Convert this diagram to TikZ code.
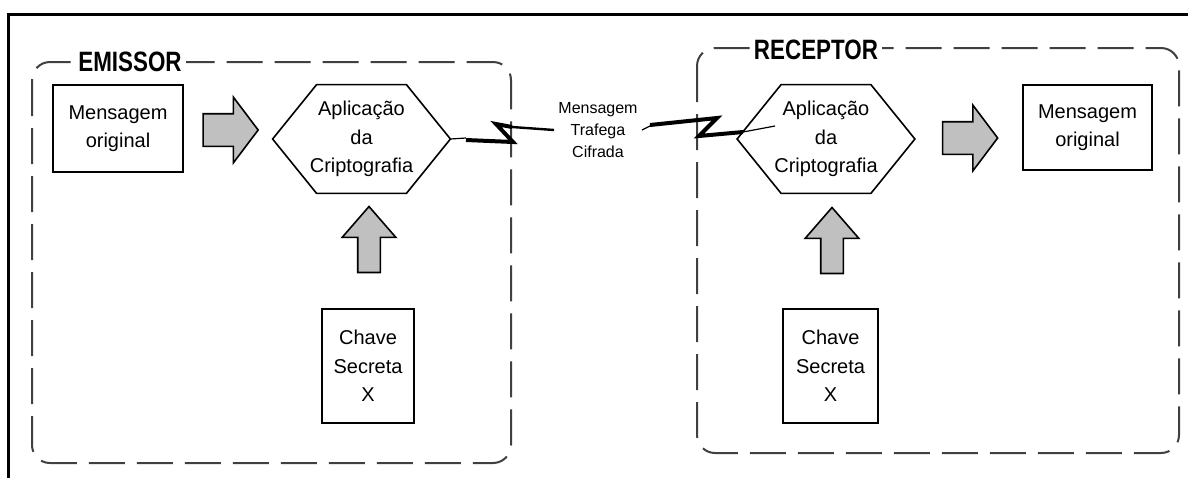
\documentclass[tikz,border=0pt]{standalone}
\usepackage{fontspec}
\setmainfont{Liberation Sans}
\usetikzlibrary{shapes.arrows,calc}
\definecolor{boxgray}{RGB}{192,192,192}
\definecolor{dashgray}{RGB}{64,64,64}

\tikzset{
  zone/.style={draw=dashgray, line width=1pt, dash pattern=on 18pt off 6pt, rounded corners=9pt},
  zonetitle/.style={fill=white, inner sep=2pt, font=\fontsize{14}{16}\selectfont\bfseries},
  msgbox/.style={draw, line width=0.9pt, align=center, font=\fontsize{10}{14.25}\selectfont},
  hexbox/.style={inner sep=0pt, minimum width=88.5pt, minimum height=54pt, align=center, font=\fontsize{10}{14.25}\selectfont},
  fatright/.style={single arrow, draw, fill=boxgray, line width=0.8pt, inner xsep=0pt, inner ysep=7.75pt, minimum height=27.5pt, single arrow head extend=8.25pt, single arrow tip angle=106},
  fatup/.style={single arrow, draw, fill=boxgray, line width=0.8pt, inner xsep=0pt, inner ysep=5.25pt, minimum height=33pt, single arrow head extend=7.75pt, single arrow tip angle=82, rotate=90},
  wire/.style={line width=0.6pt},
  boltline/.style={line width=2pt, line join=miter},
}
% outline of the hexagon around a text node
\newcommand{\hexline}[1]{\draw[line width=0.8pt] (#1.west) -- ($(#1.north west)+(44,0)$) -- ($(#1.north east)+(-44,0)$) -- (#1.east) -- ($(#1.south east)+(-44,0)$) -- ($(#1.south west)+(44,0)$) -- cycle;}

\begin{document}
\begin{tikzpicture}[x=0.5pt, y=-0.5pt]
  \useasboundingbox (0,0) rectangle (1188,478);
  \draw[line width=1.5pt] (8,478) -- (8,14) -- (1188,14);

  % the two sides
  \draw[zone] (32,62) rectangle (511,463);
  \draw[zone] (697,48) rectangle (1179,453);
  \node[zonetitle] (emit) at (130,62) {\scalebox{0.8}[1]{EMISSOR}};
  \node[zonetitle] (recv) at (816,50) {\scalebox{0.8}[1]{RECEPTOR}};

  % emissor
  \node[msgbox, minimum width=65pt, minimum height=43.5pt] (origL) at (118,128.5) {Mensagem\\original};
  \node[fatright] (pushL) at (224.5,130) {};
  \node[hexbox] (cryptL) at (361.5,139) {Aplicação\\da\\Criptografia};
  \hexline{cryptL}
  \node[fatup] (keyupL) at (369,246) {};
  \node[msgbox, minimum width=46pt, minimum height=57pt] (keyL) at (368,366) {Chave\\Secreta\\X};

  % receptor
  \node[hexbox] (cryptR) at (826,139) {Aplicação\\da\\Criptografia};
  \hexline{cryptR}
  \node[fatright] (pushR) at (964,138) {};
  \node[msgbox, minimum width=64.5pt, minimum height=42.5pt] (origR) at (1087.5,127.5) {Mensagem\\original};
  \node[fatup] (keyupR) at (832,247) {};
  \node[msgbox, minimum width=47.5pt, minimum height=57pt] (keyR) at (830.5,366) {Chave\\Secreta\\X};

  % channel
  \node[font=\fontsize{8}{11}\selectfont, align=center, inner sep=2pt] (transit) at (598,130) {Mensagem\\Trafega\\Cifrada};
  \coordinate (zapL) at (504,133);
  \coordinate (zapR) at (707,127);
  \coordinate (rin) at (775,126);

  \draw[wire] (cryptL.east) -- ($(zapL)+(-38,5)$);
  \draw[boltline] ($(zapL)+(-38,7)$) -- ($(zapL)+(9,9)$) -- ($(zapL)+(-8,-9)$) -- ($(zapL)+(8,-6)$);
  \draw[line width=1.2pt] ($(zapL)+(8,-6)$) -- (transit.west);

  \draw[wire] (transit.east) -- ($(zapR)+(-57,-1)$);
  \draw[boltline] ($(zapR)+(-57,-2)$) -- ($(zapR)+(10,-9)$) -- ($(zapR)+(-8,9)$) -- ($(zapR)+(36,5)$);
  \draw[wire] ($(zapR)+(36,5)$) -- (rin);
\end{tikzpicture}
\end{document}
